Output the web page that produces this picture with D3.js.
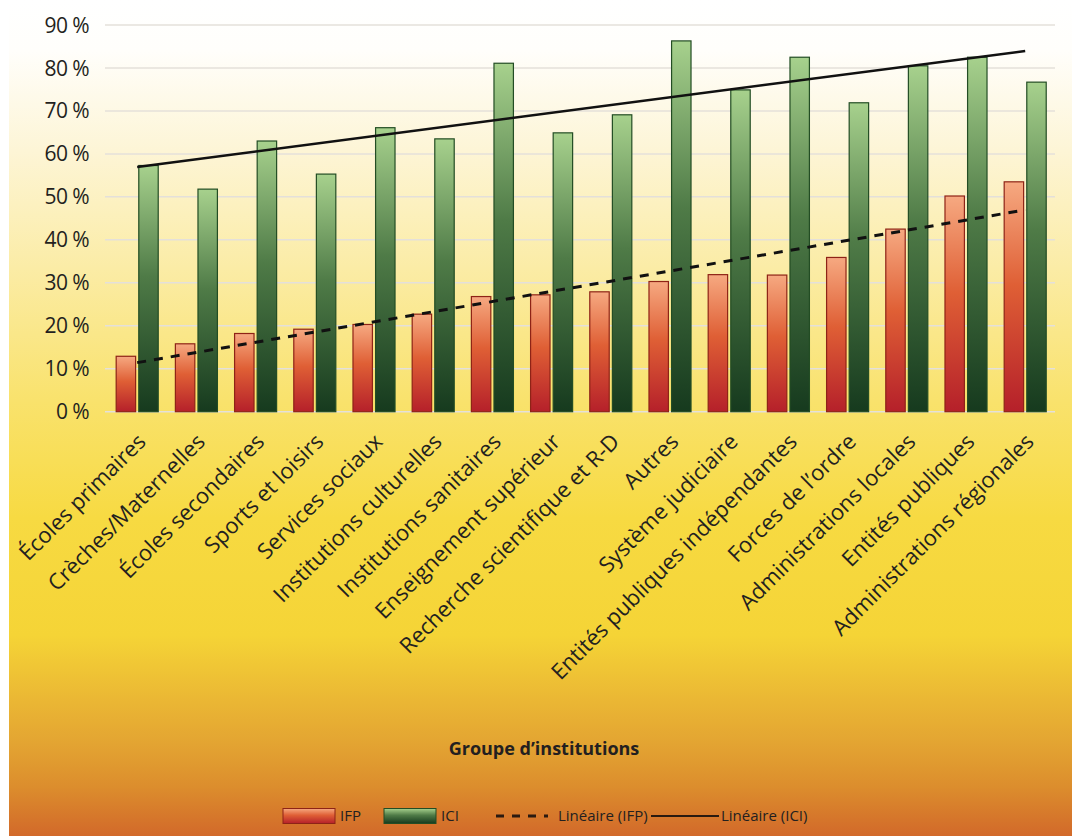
<!DOCTYPE html>
<html>
<head>
<meta charset="utf-8">
<script src="https://cdn.jsdelivr.net/npm/d3@7"></script>
<style>
  html, body { margin: 0; padding: 0; background: #fff; }
  svg { display: block; }
  text { font-family: "Open Sans", "Noto Sans", sans-serif; fill: #231f20; }
</style>
</head>
<body>
<svg id="chart" width="1072" height="836"></svg>
<script>
const categories = [
  "Écoles primaires", "Crèches/Maternelles", "Écoles secondaires", "Sports et loisirs",
  "Services sociaux", "Institutions culturelles", "Institutions sanitaires",
  "Enseignement supérieur", "Recherche scientifique et R-D", "Autres",
  "Système judiciaire", "Entités publiques indépendantes", "Forces de l’ordre",
  "Administrations locales", "Entités publiques", "Administrations régionales"
];
const ifpValues = [12.9, 15.8, 18.2, 19.2, 20.3, 22.7, 26.8, 27.2, 27.9, 30.3, 31.9, 31.8, 35.9, 42.5, 50.2, 53.5];
const iciValues = [57.3, 51.8, 63.0, 55.3, 66.1, 63.5, 81.1, 64.9, 69.1, 86.3, 74.9, 82.5, 71.9, 80.5, 82.5, 76.7];
const series = ["IFP", "ICI"];
const yTicks = [0, 10, 20, 30, 40, 50, 60, 70, 80, 90];
const axisTitle = "Groupe d’institutions";
const legendItems = [
  {key: "IFP", label: "IFP", type: "bar"},
  {key: "ICI", label: "ICI", type: "bar"},
  {key: "IFP", label: "Linéaire (IFP)", type: "dash"},
  {key: "ICI", label: "Linéaire (ICI)", type: "solid"}
];

const W = 1072, H = 836;
const svg = d3.select("#chart");
const defs = svg.append("defs");

// background gradient
const bg = defs.append("linearGradient").attr("id", "bgGrad")
  .attr("x1", 0).attr("y1", 0).attr("x2", 0).attr("y2", 1);
[[0, "#ffffff"], [0.06, "#fffefb"], [0.18, "#fdf5d6"], [0.32, "#fbeca6"],
 [0.48, "#f9e26c"], [0.62, "#f7da42"], [0.76, "#f5d436"], [0.84, "#eab634"],
 [0.89, "#e3a432"], [0.94, "#dc8e2d"], [1, "#d2692a"]]
  .forEach(([o, c]) => bg.append("stop").attr("offset", o).attr("stop-color", c));

svg.append("rect").attr("x", 9).attr("y", 0).attr("width", W - 9).attr("height", H)
  .attr("fill", "url(#bgGrad)");

// bar gradients (per bar, object bounding box)
const barColors = {
  IFP: {stops: [[0, "#f6a981"], [0.45, "#df5f35"], [1, "#b5202a"]], stroke: "#8e2316"},
  ICI: {stops: [[0, "#a7d18d"], [0.45, "#4f7b47"], [1, "#163a1e"]], stroke: "#234d24"}
};
series.forEach(s => {
  const g = defs.append("linearGradient").attr("id", "grad" + s)
    .attr("x1", 0).attr("y1", 0).attr("x2", 0).attr("y2", 1);
  barColors[s].stops.forEach(([o, c]) => g.append("stop").attr("offset", o).attr("stop-color", c));
});

// scales
const x0 = d3.scaleBand().domain(categories).range([107.6, 1054.8]).paddingInner(0.29).paddingOuter(0.145);
const x1 = d3.scaleBand().domain(series).range([0, x0.bandwidth()]).paddingInner(0.14);
const y = d3.scaleLinear().domain([0, 90]).range([411.7, 25]);

// gridlines
svg.append("g").selectAll("line").data(yTicks).join("line")
  .attr("x1", 105).attr("x2", 1055)
  .attr("y1", d => y(d)).attr("y2", d => y(d))
  .attr("stroke", "#e4e0da").attr("stroke-width", 1.5);

// y tick labels
svg.append("g").selectAll("text").data(yTicks).join("text")
  .attr("x", 89).attr("y", d => y(d)).attr("dy", "0.36em")
  .attr("text-anchor", "end").attr("font-size", 21).attr("letter-spacing", -0.6)
  .text(d => d + " %");

// bars
const rows = categories.map((c, i) => ({cat: c, IFP: ifpValues[i], ICI: iciValues[i]}));
const groups = svg.append("g").selectAll("g").data(rows).join("g")
  .attr("transform", d => `translate(${x0(d.cat)},0)`);
groups.selectAll("rect").data(d => series.map(s => ({s, v: d[s]}))).join("rect")
  .attr("x", d => x1(d.s)).attr("width", x1.bandwidth())
  .attr("y", d => y(d.v)).attr("height", d => y(0) - y(d.v))
  .attr("fill", d => `url(#grad${d.s})`)
  .attr("stroke", d => barColors[d.s].stroke).attr("stroke-width", 1.2);

// linear trend lines (least squares on category index)
function linearFit(vals) {
  const n = vals.length, xs = d3.range(1, n + 1);
  const mx = d3.mean(xs), my = d3.mean(vals);
  const b = d3.sum(xs, (xv, i) => (xv - mx) * (vals[i] - my)) / d3.sum(xs, xv => (xv - mx) ** 2);
  return xv => my + b * (xv - mx);
}
const cx = c => x0(c) + x0.bandwidth() / 2;
const trendLine = d3.line().x(d => cx(d.cat)).y(d => y(d.v));
[["IFP", ifpValues, "9,8"], ["ICI", iciValues, null]].forEach(([s, vals, dash]) => {
  const f = linearFit(vals);
  const pts = [0, categories.length - 1].map(i => ({cat: categories[i], v: f(i + 1)}));
  svg.append("path").datum(pts).attr("d", trendLine)
    .attr("fill", "none").attr("stroke", "#111").attr("stroke-width", dash ? 3 : 2.5)
    .attr("stroke-dasharray", dash);
});

// category labels
svg.append("g").selectAll("text").data(categories).join("text")
  .attr("transform", d => `translate(${cx(d) + 10},443) rotate(-45)`)
  .attr("text-anchor", "end").attr("font-size", 22)
  .text(d => d);

// axis title
svg.append("text").attr("x", 544).attr("y", 755).attr("text-anchor", "middle")
  .attr("font-size", 18).attr("font-weight", "bold")
  .text(axisTitle);

// legend
const legendX = [283, 384, 496, 651];
const leg = svg.append("g").selectAll("g").data(legendItems).join("g")
  .attr("transform", (d, i) => `translate(${legendX[i]},816)`);
leg.filter(d => d.type === "bar").append("rect")
  .attr("x", 0).attr("y", -7.5).attr("width", 52).attr("height", 15)
  .attr("fill", d => `url(#grad${d.key})`)
  .attr("stroke", d => barColors[d.key].stroke).attr("stroke-width", 1);
leg.filter(d => d.type !== "bar").append("line")
  .attr("x1", 0).attr("x2", d => d.type === "dash" ? 52 : 68).attr("y1", 0).attr("y2", 0)
  .attr("stroke", "#2a1a10").attr("stroke-width", d => d.type === "dash" ? 3 : 2)
  .attr("stroke-dasharray", d => d.type === "dash" ? "8,8" : null);
leg.append("text")
  .attr("x", d => d.type === "bar" ? 57 : (d.type === "dash" ? 62 : 70))
  .attr("y", 0).attr("dy", "0.35em").attr("font-size", 15)
  .text(d => d.label);
</script>
</body>
</html>
